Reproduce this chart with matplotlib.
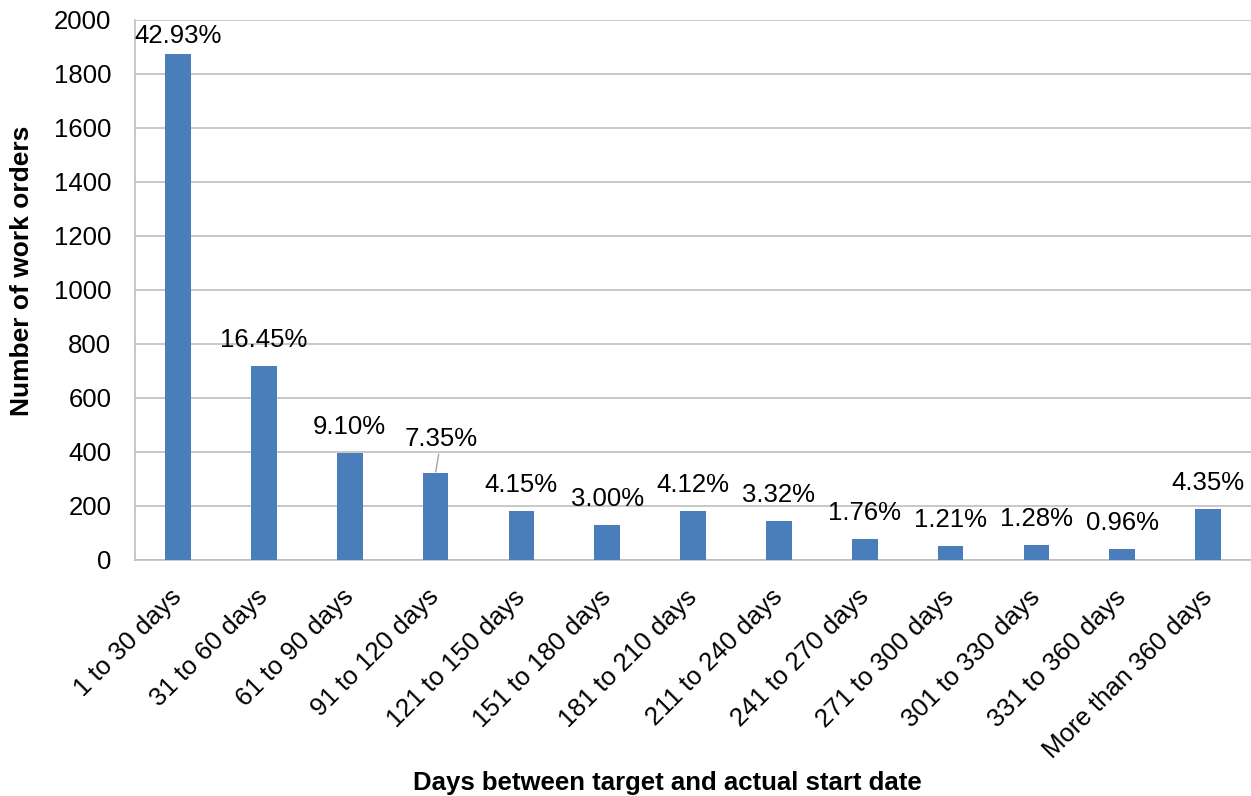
import matplotlib
matplotlib.use("Agg")
import matplotlib.pyplot as plt
import numpy as np

categories = ["1 to 30 days", "31 to 60 days", "61 to 90 days", "91 to 120 days",
              "121 to 150 days", "151 to 180 days", "181 to 210 days", "211 to 240 days",
              "241 to 270 days", "271 to 300 days", "301 to 330 days", "331 to 360 days",
              "More than 360 days"]
work_orders = [1874, 718, 397, 321, 181, 131, 180, 145, 77, 53, 56, 42, 190]
percent_labels = ["42.93%", "16.45%", "9.10%", "7.35%", "4.15%", "3.00%", "4.12%",
                  "3.32%", "1.76%", "1.21%", "1.28%", "0.96%", "4.35%"]
y_ticks = [0, 200, 400, 600, 800, 1000, 1200, 1400, 1600, 1800, 2000]

plt.rcParams["font.family"] = ["Liberation Sans", "DejaVu Sans"]
FS = 18.5

fig = plt.figure(figsize=(12.51, 7.96), dpi=100)
ax = fig.add_axes([0.108, 0.2965, 0.892, 0.6785])

x = np.arange(len(categories))
ax.bar(x, work_orders, width=0.30, color="#4a7ebb", zorder=3)

ax.set_xlim(-0.5, len(categories) - 0.5)
ax.set_ylim(0, 2000)
ax.set_yticks(y_ticks)
ax.set_yticklabels([str(t) for t in y_ticks], fontsize=FS)
ax.set_xticks(x)
ax.set_xticklabels(categories, rotation=45, ha="right", va="center",
                   rotation_mode="anchor", fontsize=FS)
ax.tick_params(axis="both", length=0)
ax.tick_params(axis="y", pad=17)
ax.tick_params(axis="x", pad=24)

ax.yaxis.grid(True, color="#bfbfbf", linewidth=1.2, zorder=0)
for side in ("top", "right"):
    ax.spines[side].set_visible(False)
for side in ("left", "bottom"):
    ax.spines[side].set_color("#bfbfbf")
    ax.spines[side].set_linewidth(1.2)

# Percentage share above each bar
for i, (v, lab) in enumerate(zip(work_orders, percent_labels)):
    if i == 0:
        ax.annotate(lab, (i, v), xytext=(0, 13), textcoords="offset points",
                    ha="center", va="center", fontsize=FS, zorder=4)
    elif i == 3:
        ax.annotate(lab, (i, v), xytext=(4, 24.5), textcoords="offset points",
                    ha="center", va="center", fontsize=FS, zorder=4,
                    arrowprops=dict(arrowstyle="-", color="#a6a6a6", lw=1,
                                    shrinkA=0, shrinkB=1))
    else:
        ax.annotate(lab, (i, v), xytext=(0, 18.7), textcoords="offset points",
                    ha="center", va="center", fontsize=FS, zorder=4)

ax.set_ylabel("Number of work orders", fontsize=19, fontweight="bold",
              ha="center", va="center")
ax.yaxis.set_label_coords(-0.101, 0.535)
ax.set_xlabel("Days between target and actual start date", fontsize=18.5,
              fontweight="bold", ha="center", va="center")
ax.xaxis.set_label_coords(0.4767, -0.413)

fig.savefig("out.png", dpi=100)
